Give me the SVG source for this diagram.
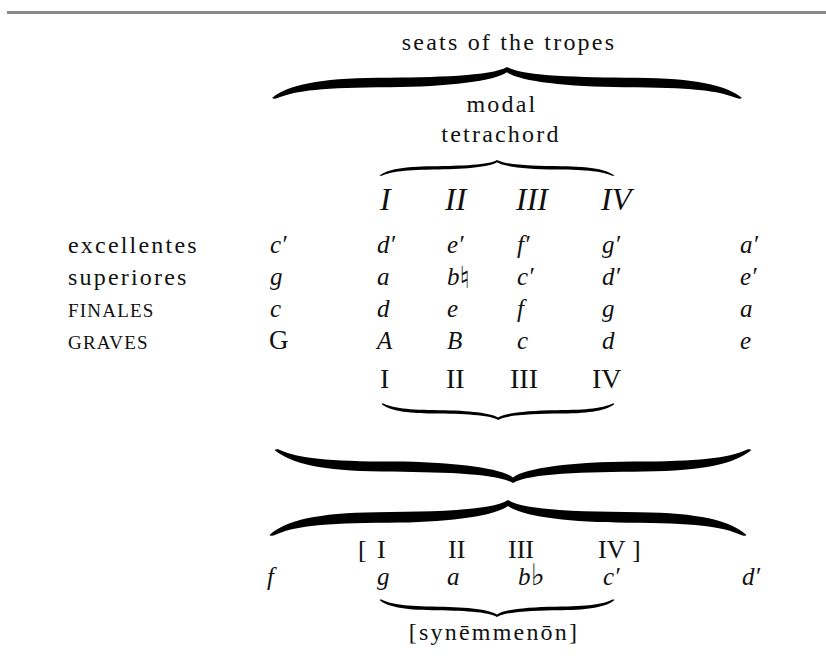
<svg xmlns="http://www.w3.org/2000/svg" width="826" height="656" viewBox="0 0 826 656">
<style>
.lbl{font-family:"Liberation Serif","DejaVu Serif",serif;font-size:24px;letter-spacing:2.2px;fill:#111}
.sc{font-family:"Liberation Serif","DejaVu Serif",serif;font-size:19px;letter-spacing:1.2px;fill:#111}
.n{font-family:"Liberation Serif","DejaVu Serif",serif;font-style:italic;font-size:25px;fill:#111}
.acc{font-family:"DejaVu Serif","DejaVu Sans",serif;font-style:normal;font-size:30px;fill:#111}
.up{font-family:"Liberation Serif","DejaVu Serif",serif;font-size:27px;fill:#111}
.ri{font-family:"Liberation Serif","DejaVu Serif",serif;font-style:italic;font-size:32px;fill:#111}
.r{font-family:"Liberation Serif","DejaVu Serif",serif;font-size:28px;fill:#111}
.rb{font-family:"Liberation Serif","DejaVu Serif",serif;font-size:26px;fill:#111}
.brace{fill:#000}
.rule{fill:#8a8a8a}
</style>
<defs>
<path id="br" d="M -1,1 C -0.93,0.58 -0.8,0.37 -0.55,0.35 C -0.3,0.33 -0.07,0.3 0,0 C 0.07,0.3 0.3,0.33 0.55,0.35 C 0.8,0.37 0.93,0.58 1,1 C 0.995,1.03 0.985,1.03 0.98,1.01 C 0.9,0.75 0.78,0.66 0.5,0.65 C 0.25,0.64 0.05,0.45 0,0.17 C -0.05,0.45 -0.25,0.64 -0.5,0.65 C -0.78,0.66 -0.9,0.75 -0.98,1.01 C -0.985,1.03 -0.995,1.03 -1,1 Z"/>
<path id="brs" d="M -1,1 C -0.93,0.6 -0.8,0.42 -0.55,0.4 C -0.3,0.38 -0.07,0.32 0,0 C 0.07,0.32 0.3,0.38 0.55,0.4 C 0.8,0.42 0.93,0.6 1,1 C 0.995,1.03 0.985,1.03 0.98,1.01 C 0.9,0.75 0.78,0.62 0.5,0.61 C 0.25,0.6 0.05,0.42 0,0.15 C -0.05,0.42 -0.25,0.6 -0.5,0.61 C -0.78,0.62 -0.9,0.75 -0.98,1.01 C -0.985,1.03 -0.995,1.03 -1,1 Z"/>
</defs>
<rect class="rule" x="7" y="11" width="819" height="3"/>

<g id="connectors">
  <use href="#br" class="brace" transform="translate(507,67) scale(235,31)"/>
  <use href="#brs" class="brace" transform="translate(497,160) scale(117.5,15.5)"/>
  <use href="#brs" class="brace" transform="translate(498,420) scale(116.5,-16)"/>
  <use href="#br" class="brace" transform="translate(513,483) scale(238.5,-33)"/>
  <use href="#br" class="brace" transform="translate(508,500) scale(238.5,35)"/>
  <use href="#brs" class="brace" transform="translate(497,617) scale(117.5,-17)"/>
</g>

<g id="seats"><text class="lbl" x="509" y="50" text-anchor="middle">seats of the tropes</text></g>
<g id="modal"><text class="lbl" x="502" y="112" text-anchor="middle">modal</text>
<text class="lbl" x="501" y="142" text-anchor="middle">tetrachord</text></g>

<g id="modal-numerals">
  <text class="ri" x="380" y="210">I</text>
  <text class="ri" x="445" y="210">II</text>
  <text class="ri" x="516" y="210">III</text>
  <text class="ri" x="601" y="210">IV</text>
</g>

<g id="labels">
  <text class="lbl" x="68" y="253">excellentes</text>
  <text class="lbl" x="68" y="285">superiores</text>
  <text class="sc" x="68" y="317">FINALES</text>
  <text class="sc" x="68" y="349">GRAVES</text>
</g>

<g id="row-excellentes">
  <text class="n" x="270" y="253">c′</text>
  <text class="n" x="377" y="253">d′</text>
  <text class="n" x="447" y="253">e′</text>
  <text class="n" x="517" y="253">f′</text>
  <text class="n" x="602" y="253">g′</text>
  <text class="n" x="740" y="253">a′</text>
</g>
<g id="row-superiores">
  <text class="n" x="270" y="285">g</text>
  <text class="n" x="377" y="285">a</text>
  <text class="n" x="447" y="285">b<tspan class="acc" dy="3">♮</tspan></text>
  <text class="n" x="517" y="285">c′</text>
  <text class="n" x="602" y="285">d′</text>
  <text class="n" x="740" y="285">e′</text>
</g>
<g id="row-finales">
  <text class="n" x="270" y="317">c</text>
  <text class="n" x="377" y="317">d</text>
  <text class="n" x="447" y="317">e</text>
  <text class="n" x="517" y="317">f</text>
  <text class="n" x="602" y="317">g</text>
  <text class="n" x="740" y="317">a</text>
</g>
<g id="row-graves">
  <text class="up" x="269" y="349">G</text>
  <text class="n" x="377" y="349">A</text>
  <text class="n" x="447" y="349">B</text>
  <text class="n" x="517" y="349">c</text>
  <text class="n" x="602" y="349">d</text>
  <text class="n" x="740" y="349">e</text>
</g>

<g id="finals-numerals">
  <text class="r" x="380" y="388">I</text>
  <text class="r" x="446" y="388">II</text>
  <text class="r" x="510" y="388">III</text>
  <text class="r" x="592" y="388">IV</text>
</g>

<g id="synemmenon-numerals">
  <text class="rb" x="358" y="558">[</text>
  <text class="rb" x="377" y="558">I</text>
  <text class="rb" x="448" y="558">II</text>
  <text class="rb" x="508" y="558">III</text>
  <text class="rb" x="598" y="558">IV</text>
  <text class="rb" x="632" y="558">]</text>
</g>
<g id="row-synemmenon">
  <text class="n" x="267" y="585">f</text>
  <text class="n" x="377" y="585">g</text>
  <text class="n" x="447" y="585">a</text>
  <text class="n" x="518" y="585">b<tspan class="acc">♭</tspan></text>
  <text class="n" x="603" y="585">c′</text>
  <text class="n" x="742" y="585">d′</text>
</g>
<g id="synemmenon"><text class="lbl" x="494" y="640" text-anchor="middle">[synēmmenōn]</text></g>
</svg>
